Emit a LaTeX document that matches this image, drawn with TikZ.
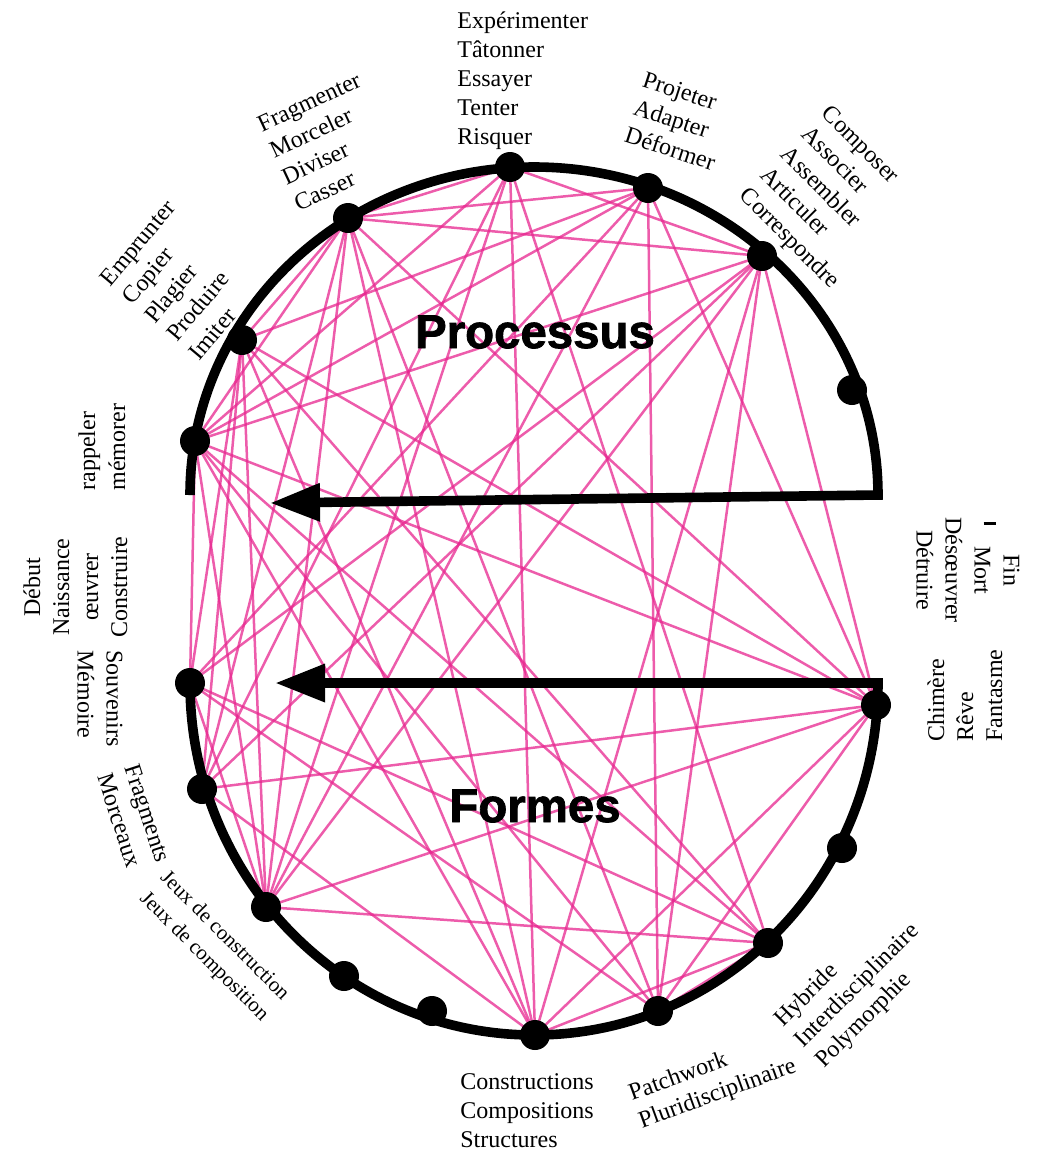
\documentclass[tikz,border=0pt]{standalone}
\usepackage{fontspec}
\setmainfont{Liberation Serif}
\newfontfamily\titlefont[BoldFeatures={FakeBold=1.6}]{Liberation Sans}
\usetikzlibrary{arrows.meta}
\definecolor{linkpink}{RGB}{231,38,143}
\tikzstyle{words} = [align=left, inner sep=0pt, font=\fontsize{12}{14.5}\selectfont]
\tikzstyle{title} = [inner sep=0pt, font=\titlefont\bfseries\fontsize{23.7}{28}\selectfont]
\tikzstyle{link} = [draw=linkpink, line width=1.25pt, opacity=0.75]
\tikzstyle{line} = [draw, line width=4.8pt, line join=miter, -{Triangle[length=25pt,width=18pt]}]

\begin{document}
\begin{tikzpicture}[x=0.5pt,y=-0.5pt]
\useasboundingbox (0,0) rectangle (1046,1153);

% dots of the upper rim
\coordinate (u1) at (195,441);
\coordinate (u2) at (242,340);
\coordinate (u3) at (348,218);
\coordinate (u4) at (510,167);
\coordinate (u5) at (648,188);
\coordinate (u6) at (762,256);
\coordinate (u7) at (852,390);
% dots of the lower rim
\coordinate (l1) at (190,683);
\coordinate (l2) at (202,789);
\coordinate (l3) at (266,907);
\coordinate (l4) at (344,976);
\coordinate (l5) at (432,1011);
\coordinate (l6) at (535,1035);
\coordinate (l7) at (658,1011);
\coordinate (l8) at (768,943);
\coordinate (l9) at (842,848);
\coordinate (l10) at (876,705);

% pink links
\foreach \a/\b in {u1/u3, u1/u4, u1/u5, u1/u6, u2/u3, u2/u5, u3/u4, u3/u5, u3/u6, u4/u6,
    u1/l1, u1/l3, u1/l6, u1/l7, u1/l8, u1/l10,
    u2/l1, u2/l2, u2/l3, u2/l6, u2/l8, u2/l10,
    u3/l2, u3/l3, u3/l6, u3/l7, u3/l10,
    u4/l2, u4/l3, u4/l6, u4/l8,
    u5/l1, u5/l3, u5/l7, u5/l10,
    u6/l1, u6/l2, u6/l3, u6/l6, u6/l7, u6/l10,
    l1/l3, l1/l7, l1/l8, l2/l10, l3/l8, l3/l10, l6/l10, l7/l10, l2/l6, l6/l8, l7/l8}
  \path [link] (\a) -- (\b);

% rims with arrows
\coordinate (top start) at (190,495);
\coordinate (top tip) at (270,503);
\coordinate (low start) at (190,683);
\coordinate (low tip) at (275,683);
\path [line] (top start) arc[start angle=180, end angle=360, x radius=344, y radius=328] -- (top tip);
\path [line] (low start) arc[start angle=180, end angle=0, x radius=344, y radius=352] -- (low tip);

\foreach \p in {u1,u2,u3,u4,u5,u6,u7,l1,l2,l3,l4,l5,l6,l7,l8,l9,l10}
  \fill (\p) circle[radius=15];

% titles
\node (proc) [title] at (535,332) {Processus};
\node (form) [title] at (535,806) {Formes};

% word lists
\node (tester) [words, anchor=north west] at (457,11) {Expérimenter\\Tâtonner\\Essayer\\Tenter\\Risquer};
\node (adapt) [words, anchor=north west, rotate=-18] at (646,71) {Projeter\\Adapter\\Déformer};
\node (assoc) [words, anchor=north west, rotate=-45] at (832,103) {Composer\\Associer\\Assembler\\Articuler\\Correspondre};
\node (casse) [words, anchor=north west, rotate=25] at (255,118) {Fragmenter\\Morceler\\Diviser\\Casser};
\node (copie) [words, anchor=north west, rotate=50] at (98,277) {Emprunter\\Copier\\Plagier\\Produire\\Imiter};
\node (rappel) [words, anchor=north west, rotate=90, font=\fontsize{12}{15}\selectfont] at (78,491) {rappeler\\mémorer};
\node (debut) [words, align=center, anchor=north, rotate=90] at (23,587) {Début\\Naissance\\œuvrer\\Construire};
\node (memoire) [words, anchor=north west, rotate=-90] at (123,650) {Souvenirs\\Mémoire};
\node (morceaux) [words, anchor=north west, rotate=-72] at (140,762) {Fragments\\Morceaux};
\node (jeux) [words, anchor=north west, rotate=-45, font=\fontsize{10.5}{14.5}\selectfont] at (170,868) {Jeux de construction\\Jeux de composition};
\node (struct) [words, anchor=north west] at (460,1073) {Constructions\\Compositions\\Structures};
\node (patch) [words, anchor=north west, rotate=20] at (626,1085) {Patchwork\\Pluridisciplinaire};
\node (hybride) [words, anchor=north west, rotate=45] at (771,1016) {Hybride\\Interdisciplinaire\\Polymorphie};
\node (fin) [words, align=center, anchor=north, rotate=-90] at (1020,570) {Fin\\\llap{\rule[4.5pt]{1.5pt}{6pt}\hspace{10.5pt}}Mort\\Désœuvrer\\Détruire};
\node (reve) [words, anchor=north west, rotate=90] at (927,742) {Chimère\\Rêve\\Fantasme};
\end{tikzpicture}
\end{document}
